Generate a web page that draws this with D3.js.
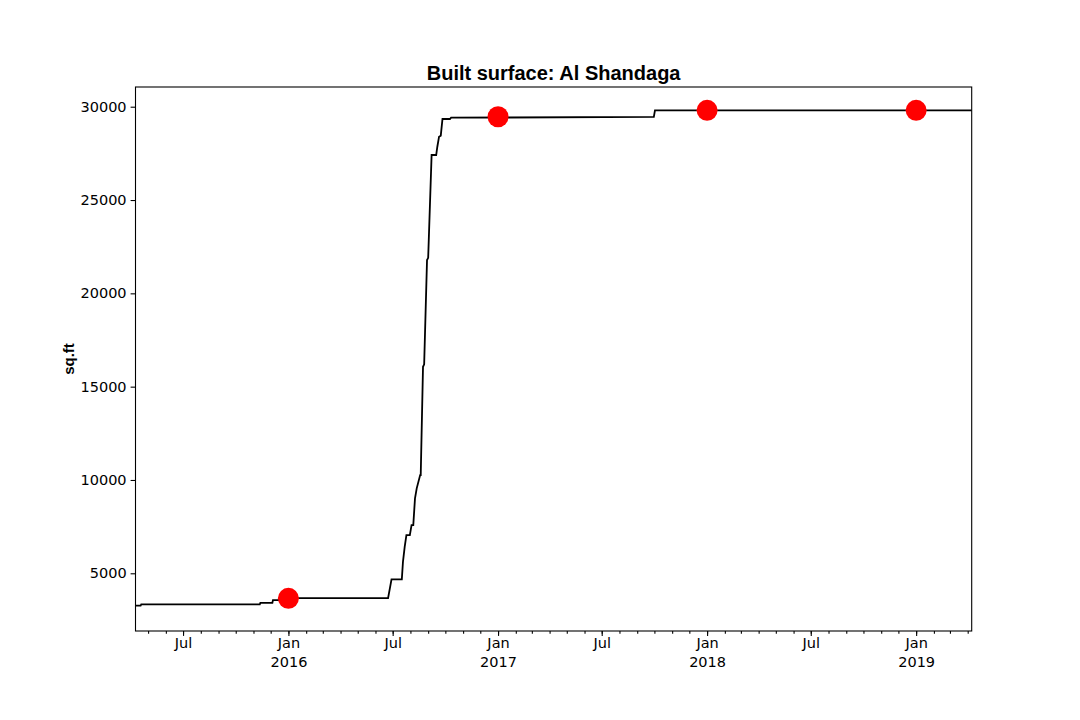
<!DOCTYPE html>
<html>
<head>
<meta charset="utf-8">
<script src="https://cdn.jsdelivr.net/npm/d3@7"></script>
<style>
  body { margin: 0; background: #fff; }
  svg { display: block; }
  .axis text { font-family: "DejaVu Sans", sans-serif; font-size: 14.5px; fill: #000; }
  .axis path, .axis line { stroke: #000; stroke-width: 1.1; }
  .title { font-family: "Liberation Sans", Arial, sans-serif; font-weight: bold; font-size: 20px; }
  .ylabel { font-family: "Liberation Sans", Arial, sans-serif; font-weight: bold; font-size: 15px; }
</style>
</head>
<body>
<svg width="1080" height="720"></svg>
<script>
let width = 1080,
    height = 720,
    margin = ({ top: 87, right: 108.3, bottom: 89, left: 135.5 }); // plot box

// built surface series (sq.ft)
const dates = ["2015-04-09", "2015-04-18", "2015-04-19", "2015-11-12", "2015-11-13", "2015-12-04",
  "2015-12-05", "2015-12-15", "2015-12-16", "2016-06-23", "2016-06-29", "2016-07-17", "2016-07-19",
  "2016-07-22", "2016-07-25", "2016-07-31", "2016-08-03", "2016-08-06", "2016-08-09", "2016-08-12",
  "2016-08-18", "2016-08-19", "2016-08-23", "2016-08-25", "2016-08-30", "2016-09-01", "2016-09-07",
  "2016-09-15", "2016-09-17", "2016-09-20", "2016-09-23", "2016-09-26", "2016-10-09", "2016-10-11",
  "2017-09-30", "2017-10-02", "2019-04-08"];
const values = [3270, 3270, 3330, 3330, 3420, 3420,
  3560, 3560, 3670, 3670, 4673, 4673, 5616,
  6420, 7047, 7047, 7583, 7583, 9014, 9550,
  10263, 10263, 16066, 16200, 21785, 21900, 27412,
  27412, 27856, 28392, 28450, 29341, 29341, 29411,
  29450, 29807, 29807];

// red markers at each new year
const markerDates = ["2016-01-01", "2017-01-01", "2018-01-01", "2019-01-01"];
const markerValues = [3660, 29464, 29807, 29807];

const yTicks = [5000, 10000, 15000, 20000, 25000, 30000];
const xMajorTicks = ["2015-07-01", "2016-01-01", "2016-07-01", "2017-01-01", "2017-07-01",
  "2018-01-01", "2018-07-01", "2019-01-01"];

const parse = d3.timeParse("%Y-%m-%d");
const series = dates.map((d, i) => ({ date: parse(d), value: values[i] }));
const markers = markerDates.map((d, i) => ({ date: parse(d), value: markerValues[i] }));

const svg = d3.select("svg");

const xScale = d3.scaleTime()
  .domain([parse("2015-04-09"), parse("2019-04-08")])
  .range([margin.left, width - margin.right]);

const yScale = d3.scaleLinear()
  .domain([1908, 31056])
  .range([height - margin.bottom, margin.top]);

// minor ticks, one per month
const xMinor = d3.axisBottom(xScale)
  .ticks(d3.timeMonth.every(1))
  .tickSize(2.8)
  .tickFormat("");
svg.append("g")
  .attr("class", "axis")
  .attr("transform", `translate(0,${height - margin.bottom})`)
  .call(xMinor)
  .call(g => g.select(".domain").remove());

// major ticks: Jan / Jul
const fmt = d => d.getMonth() === 0 ? "Jan\n" + d.getFullYear() : d3.timeFormat("%b")(d);
const xAxis = d3.axisBottom(xScale)
  .tickValues(xMajorTicks.map(parse))
  .tickSize(4.9)
  .tickPadding(1.5)
  .tickFormat(fmt);
svg.append("g")
  .attr("class", "axis")
  .attr("transform", `translate(0,${height - margin.bottom})`)
  .call(xAxis)
  .call(g => g.select(".domain").remove())
  .call(g => g.selectAll(".tick text").each(function (d) {
    const t = d3.select(this);
    const lines = fmt(d).split("\n");
    t.text(null);
    lines.forEach((s, i) => {
      t.append("tspan").attr("x", 0).attr("dy", i === 0 ? "0.71em" : "1.3em").text(s);
    });
  }));

const yAxis = d3.axisLeft(yScale)
  .tickValues(yTicks)
  .tickSize(4.9)
  .tickPadding(4)
  .tickFormat(d3.format("d"));
svg.append("g")
  .attr("class", "axis")
  .attr("transform", `translate(${margin.left},0)`)
  .call(yAxis)
  .call(g => g.select(".domain").remove());

// plot frame
svg.append("rect")
  .attr("x", margin.left)
  .attr("y", margin.top)
  .attr("width", width - margin.left - margin.right)
  .attr("height", height - margin.top - margin.bottom)
  .attr("fill", "none")
  .attr("stroke", "#000")
  .attr("stroke-width", 1.1);

const line = d3.line()
  .x(d => xScale(d.date))
  .y(d => yScale(d.value));

svg.append("path")
  .datum(series)
  .attr("d", line)
  .attr("fill", "none")
  .attr("stroke", "#000")
  .attr("stroke-width", 1.8)
  .attr("stroke-linejoin", "miter");

svg.append("g")
  .selectAll("circle")
  .data(markers)
  .join("circle")
  .attr("cx", d => xScale(d.date))
  .attr("cy", d => yScale(d.value))
  .attr("r", 10.5)
  .attr("fill", "#ff0000");

svg.append("text")
  .attr("class", "title")
  .attr("x", (margin.left + width - margin.right) / 2)
  .attr("y", 80)
  .attr("text-anchor", "middle")
  .text("Built surface: Al Shandaga");

svg.append("text")
  .attr("class", "ylabel")
  .attr("transform", `translate(74,${(margin.top + height - margin.bottom) / 2}) rotate(-90)`)
  .attr("text-anchor", "middle")
  .text("sq.ft");
</script>
</body>
</html>
